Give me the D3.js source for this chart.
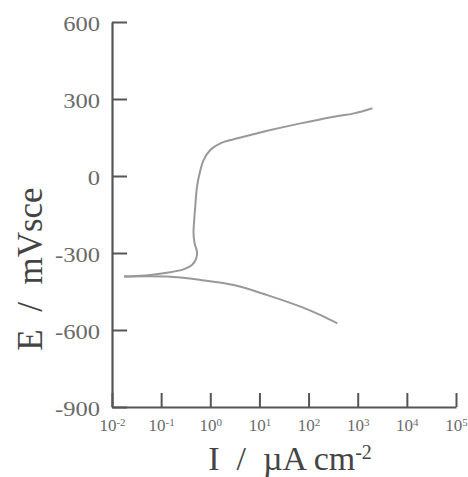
<!DOCTYPE html>
<html>
<head>
<meta charset="utf-8">
<script src="https://cdn.jsdelivr.net/npm/d3@7"></script>
<style>
html,body{margin:0;padding:0;background:#fff;}
svg{display:block;}
</style>
</head>
<body>
<script>
// Data (current density in µA cm^-2, potential in mV vs SCE)
const anodicI = [0.0176, 0.0597, 0.131, 0.285, 0.424, 0.518, 0.536, 0.479, 0.456, 0.471, 0.494, 0.536, 0.605, 0.730, 1.0, 1.60, 2.99, 6.55, 14.4, 68.7, 328, 840, 1995];
const anodicE = [-392, -386, -377, -364, -347, -321, -295, -262, -223, -171, -120, -42, 10, 62, 101, 127, 143, 160, 176, 205, 231, 244, 264];
const cathodicI = [0.0176, 0.131, 0.625, 2.99, 14.4, 68.7, 176, 385];
const cathodicE = [-392, -392, -405, -425, -464, -509, -542, -574];
const yTicks = [-900, -600, -300, 0, 300, 600];
const xTickExps = [-2, -1, 0, 1, 2, 3, 4, 5];
const xTitle = "I\u00A0\u00A0/\u00A0\u00A0\u00B5A cm";
const xTitleSup = "-2";
const yTitle = "E\u00A0\u00A0/\u00A0\u00A0mVsce";

const FONT = "'Liberation Serif','Times New Roman',serif";
const W = 468, H = 477;
const svg = d3.select("body").append("svg").attr("width", W).attr("height", H)
  .attr("font-family", FONT);

const x = d3.scaleLog().domain([1e-2, 1e5]).range([112, 456]);
const y = d3.scaleLinear().domain([-900, 600]).range([407, 22]);

const axisColor = "#555";
const labelColor = "#6a6a6a";

// Y axis
const gy = svg.append("g").attr("transform", "translate(112,0)")
  .call(d3.axisLeft(y).tickValues(yTicks).tickSizeInner(-15).tickSizeOuter(0).tickPadding(12).tickFormat(d3.format("d")))
  .attr("font-family", FONT);
gy.select(".domain").attr("stroke", axisColor).attr("stroke-width", 2.2);
gy.selectAll(".tick line").attr("stroke", axisColor).attr("stroke-width", 2);
gy.selectAll(".tick text").attr("fill", labelColor).style("font-size", "21px").style("font-family", FONT)
  .attr("x", -12 / 1.17).attr("transform", "scale(1.17,1)")
  .attr("dy", "0.4em").text(d => d);

// X axis
const gx = svg.append("g").attr("transform", "translate(0,407)")
  .call(d3.axisBottom(x).tickValues(xTickExps.map(e => Math.pow(10, e))).tickSizeInner(-14).tickSizeOuter(0).tickPadding(8).tickFormat(() => ""))
  .attr("font-family", FONT);
gx.select(".domain").attr("stroke", axisColor).attr("stroke-width", 2.2);
gx.selectAll(".tick line").attr("stroke", axisColor).attr("stroke-width", 2);
gx.selectAll(".tick text").each(function(d, i) {
  const t = d3.select(this).attr("fill", labelColor).style("font-size", "17px").style("font-family", FONT).attr("dy", "0.95em");
  t.text(null);
  t.append("tspan").text("10");
  t.append("tspan").attr("dy", "-0.45em").style("font-size", "11px").text(String(xTickExps[i]));
});

// Curves
const line = d3.line().x(d => x(d[0])).y(d => y(d[1])).curve(d3.curveCatmullRom.alpha(0.5));
const anodic = anodicI.map((v, i) => [v, anodicE[i]]);
const cathodic = cathodicI.map((v, i) => [v, cathodicE[i]]);
svg.append("path").datum(anodic).attr("d", line).attr("fill", "none").attr("stroke", "#999").attr("stroke-width", 2);
svg.append("path").datum(cathodic).attr("d", line).attr("fill", "none").attr("stroke", "#999").attr("stroke-width", 2);

// Titles
const xt = svg.append("text").attr("x", 290).attr("y", 470).attr("text-anchor", "middle")
  .attr("fill", "#444").style("font-size", "34px").style("font-family", FONT);
xt.append("tspan").text(xTitle);
xt.append("tspan").attr("dy", "-0.55em").style("font-size", "20px").text(xTitleSup);

svg.append("text").attr("transform", "translate(42,269) rotate(-90)").attr("text-anchor", "middle")
  .attr("fill", "#444").style("font-size", "35px").style("font-family", FONT).text(yTitle);
</script>
</body>
</html>
